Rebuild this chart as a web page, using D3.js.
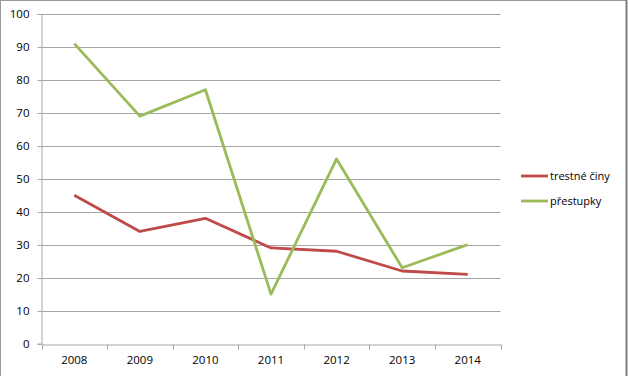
<!DOCTYPE html>
<html><head><meta charset="utf-8">
<script src="https://cdn.jsdelivr.net/npm/d3@7"></script>
<style>body{margin:0;background:#fff}svg{display:block}</style>
</head><body>
<script>
const years = ["2008","2009","2010","2011","2012","2013","2014"];
const trestneCiny = [45, 34, 38, 29, 28, 22, 21];
const prestupky = [91, 69, 77, 15, 56, 23, 30];
const yTicks = [0,10,20,30,40,50,60,70,80,90,100];
const seriesNames = ["trestné činy", "přestupky"];
const seriesColors = ["#BE4B48", "#9BBB59"];

(function(){
const W = 628, H = 376;
const svg = d3.select("body").append("svg").attr("width", W).attr("height", H);
svg.append("rect").attr("x",0.5).attr("y",0.5).attr("width",626).attr("height",H+2)
  .attr("fill","#fff").attr("stroke","#9a9a9a").attr("stroke-width",1);
svg.append("line").attr("x1",626.5).attr("x2",626.5).attr("y1",0).attr("y2",H)
  .attr("stroke","#7f7f7f").attr("stroke-width",2);

const mLeft = 41.5, mRight = 500.5, mTop = 14, mBottom = 343.5;
const x = d3.scaleBand().domain(years).range([mLeft, mRight]);
const y = d3.scaleLinear().domain([0,100]).range([mBottom, mTop]);
const font = "'Open Sans', sans-serif";

// gridlines
svg.append("g").selectAll("line").data(yTicks.filter(d=>d>0)).join("line")
  .attr("x1", mLeft).attr("x2", mRight)
  .attr("y1", d=>Math.round(y(d))+0.5).attr("y2", d=>Math.round(y(d))+0.5)
  .attr("stroke","#a6a6a6").attr("stroke-width",1);

// y axis
const ya = svg.append("g").attr("transform",`translate(${mLeft},0)`)
  .call(d3.axisLeft(y).tickValues(yTicks).tickSize(4).tickPadding(8));
ya.select(".domain").attr("stroke","#a6a6a6");
ya.selectAll(".tick line").attr("stroke","#a6a6a6");
ya.selectAll(".tick").attr("transform", d=>`translate(0,${Math.round(y(d))+0.5})`);
ya.selectAll("text").attr("font-family",font).attr("font-size","11.5px").attr("fill","#000");

// x axis
const xa = svg.append("g").attr("transform",`translate(0,${Math.round(mBottom)+0.5})`)
  .call(d3.axisBottom(x).tickSize(0).tickPadding(11));
xa.select(".domain").attr("stroke","#a6a6a6");
xa.selectAll("text").attr("font-family",font).attr("font-size","11.5px").attr("fill","#000");
const bounds = years.map(d=>x(d)).concat([x(years[years.length-1])+x.bandwidth()]);
xa.append("g").selectAll("line").data(bounds).join("line")
  .attr("x1",d=>Math.round(d)+0.5).attr("x2",d=>Math.round(d)+0.5)
  .attr("y1",0).attr("y2",5).attr("stroke","#a6a6a6");

// lines
const line = d3.line().x((d,i)=>x(years[i])+x.bandwidth()/2).y(d=>y(d));
[trestneCiny, prestupky].forEach((s,i)=>{
  svg.append("path").datum(s).attr("d",line).attr("fill","none")
    .attr("stroke",seriesColors[i]).attr("stroke-width",2.8)
    .attr("stroke-linejoin","round");
});

// legend
const lg = svg.append("g");
seriesNames.forEach((n,i)=>{
  const ly = 176 + i*25;
  lg.append("line").attr("x1",521).attr("x2",548).attr("y1",ly).attr("y2",ly)
    .attr("stroke",seriesColors[i]).attr("stroke-width",2.8);
  lg.append("text").attr("x",550).attr("y",ly+4).text(n)
    .attr("font-family",font).attr("font-size","11px").attr("fill","#000");
});
})();
</script>
</body></html>
